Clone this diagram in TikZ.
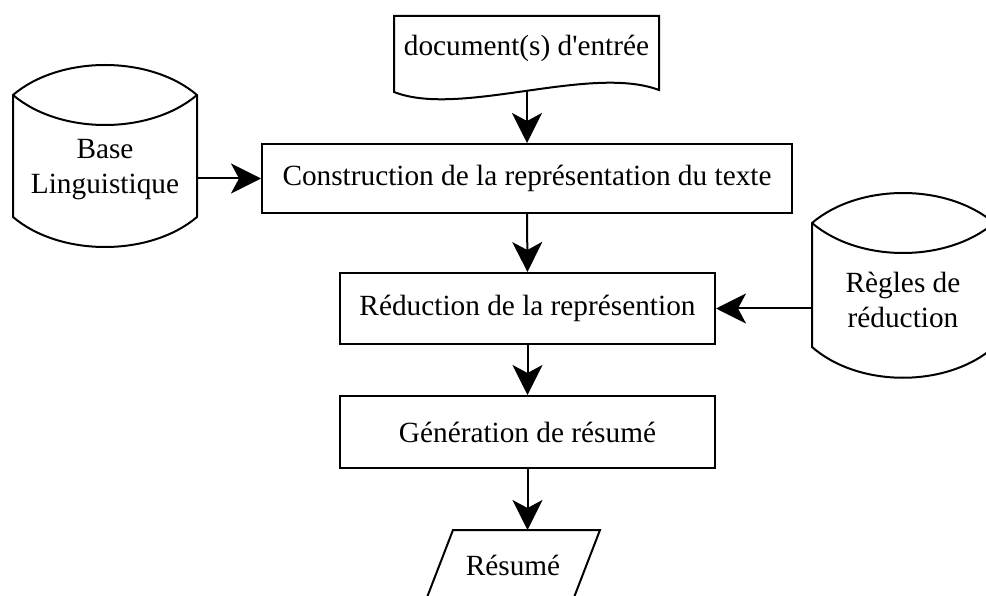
\documentclass[tikz,border=0pt]{standalone}
\usepackage{fontspec}
\setmainfont{Liberation Serif}
\usetikzlibrary{arrows.meta}
\begin{document}
\begin{tikzpicture}[x=1pt,y=-1pt,
  outline/.style={draw=black,line width=2pt,line join=miter},
  lbl/.style={font=\fontsize{29.3}{35}\selectfont,align=center,inner sep=0pt},
  procbox/.style={outline,lbl,rectangle},
  flow/.style={line width=2pt,-{Stealth[length=30pt,width=30pt,inset=8pt]}},
]
\useasboundingbox (0,0) rectangle (986,596);
\clip (0,0) rectangle (986,596);

% input document (wavy bottom edge)
\draw[outline] (394,92) -- (394,16) -- (659,16) -- (659,90)
  .. controls (590,64) and (460,118) .. (394,92) -- cycle;
\node[lbl] (doc) at (526.5,48) {document(s) d\textquotesingle entrée};
\coordinate (docb) at (527,91.5);

% linguistic knowledge base (stored data)
\draw[outline] (13,95) .. controls (60,55) and (150,55) .. (197,95)
  -- (197,217) .. controls (150,257) and (60,257) .. (13,217) -- cycle;
\draw[outline] (13,95) .. controls (60,135) and (150,135) .. (197,95);
\node[lbl,minimum width=184pt] (base) at (105,170) {Base\\Linguistique};

% reduction rules (stored data)
\draw[outline] (812,223) .. controls (859,183) and (947,183) .. (994,223)
  -- (994,347) .. controls (947,388) and (859,388) .. (812,347) -- cycle;
\draw[outline] (812,223) .. controls (859,263) and (947,263) .. (994,223);
\node[lbl,minimum width=182pt] (regles) at (903,300) {Règles de\\réduction};

% processing steps
\node[procbox,minimum width=530pt,minimum height=69pt] (constr) at (527,178.5)
  {Construction de la représentation du texte};
\node[procbox,minimum width=375pt,minimum height=71pt] (reduc) at (527.5,308.5)
  {Réduction de la représention};
\node[procbox,minimum width=375pt,minimum height=72pt] (gen) at (527.5,432)
  {Génération de résumé};

% output summary (parallelogram)
\draw[outline] (453,530) -- (600,530) -- (573,600) -- (426,600) -- cycle;
\node[lbl] (res) at (513,565) {Résumé};
\coordinate (restop) at (527.5,530);

% connectors
\draw[flow] (docb) -- (constr.north);
\draw[flow] (constr.west -| base.east) -- (constr.west);
\draw[flow] (constr.south) -- (reduc.north);
\draw[flow] (reduc.east -| regles.west) -- (reduc.east);
\draw[flow] (reduc.south) -- (gen.north);
\draw[flow] (gen.south) -- (restop);
\end{tikzpicture}
\end{document}
